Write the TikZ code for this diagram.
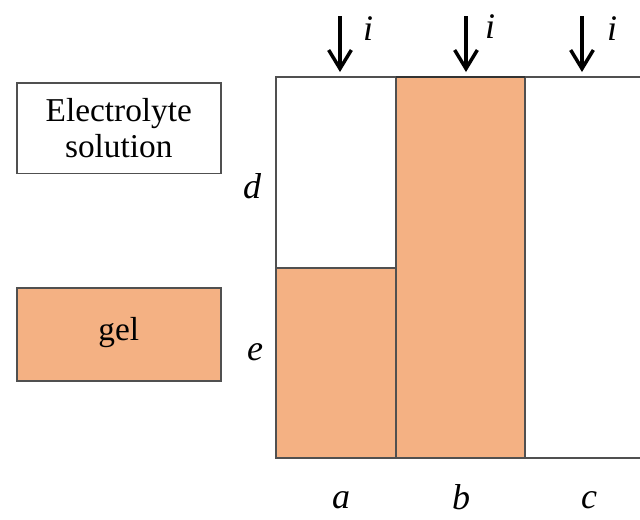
\documentclass[tikz,border=0pt]{standalone}
\usepackage{fontspec}
\setmainfont{Liberation Serif}
\usetikzlibrary{arrows.meta}
\definecolor{gelc}{HTML}{F4B183}
\definecolor{edge}{HTML}{505050}
\begin{document}
\begin{tikzpicture}[x=0.75pt,y=-0.75pt,
  box/.style={draw=edge,line width=1.2pt,minimum width=153pt,minimum height=68pt,inner sep=0pt,align=center,font=\fontsize{25}{29}\selectfont},
  lab/.style={font=\fontsize{27}{30}\selectfont\itshape,inner sep=0pt},
  cur/.style={line width=2.6pt,-{Straight Barb[length=14pt,width=17pt,line width=2.6pt]}},
  frame/.style={draw=edge,line width=1.2pt}]
\useasboundingbox (0,0) rectangle (640,519);
% legend
\node[box,anchor=north west] (sol) at (16,82) {Electrolyte\\[-2pt]solution};
\node[box,anchor=north west,fill=gelc,minimum height=70pt] (gelbox) at (16,287) {\raisebox{9pt}{gel}};
% frame
\draw[frame] (645,77) -- (276,77) -- (276,458) -- (645,458);
% column a gel
\draw[frame,fill=gelc] (276,268) rectangle (396,458);
% column b gel
\draw[frame,fill=gelc] (396,77) rectangle (525,458);
\draw[line width=1.6pt,black!80] (396,77) -- (525,77);
% current arrows
\coordinate (a1) at (340,16); \coordinate (a2) at (340,72);
\coordinate (b1) at (466,16); \coordinate (b2) at (466,72);
\coordinate (c1) at (582,16); \coordinate (c2) at (582,72);
\draw[cur] (a1) -- (a2);
\draw[cur] (b1) -- (b2);
\draw[cur] (c1) -- (c2);
\node[lab] (ia) at (368,29) {i};
\node[lab] (ib) at (490,27) {i};
\node[lab] (ic) at (612,29) {i};
% side labels
\node[lab] (d) at (252,186) {d};
\node[lab] (e) at (255,352) {e};
% bottom labels
\node[lab] (la) at (341,500) {a};
\node[lab] (lb) at (461,497) {b};
\node[lab] (lc) at (589,500) {c};
\end{tikzpicture}
\end{document}
